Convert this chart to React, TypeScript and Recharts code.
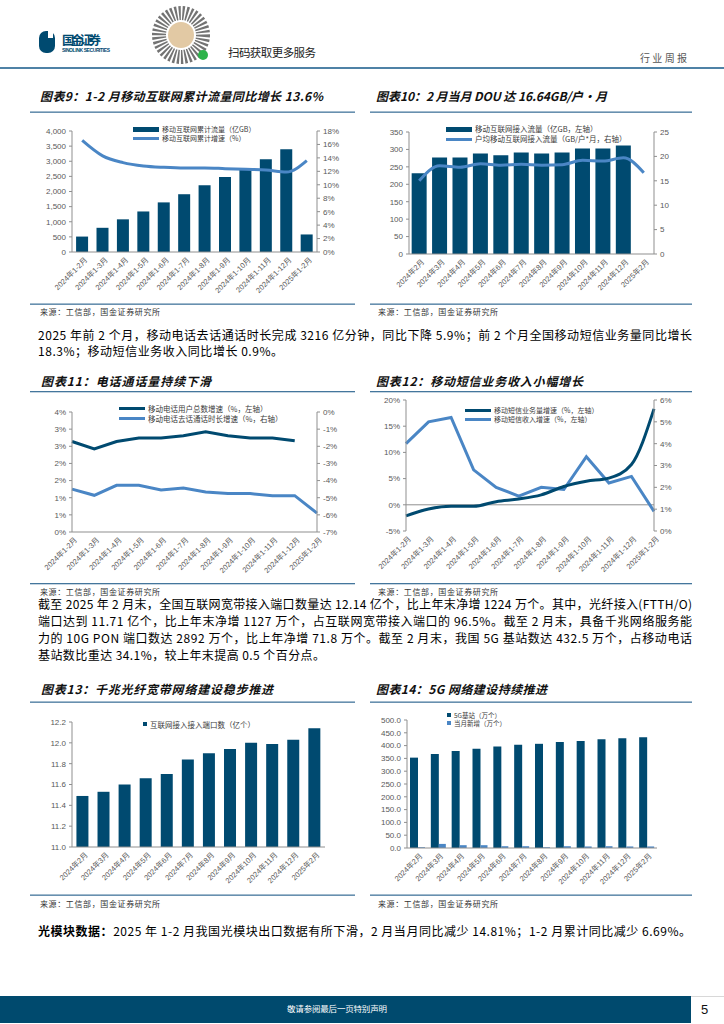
import React from "react";
import { ComposedChart, BarChart, LineChart, Bar, Line, XAxis, YAxis, Legend, ReferenceLine } from "recharts";

const NAVY = "#004a70";
const SKY = "#4a86c5";
const AXIS = "#8f8f8f";
const TICK = "#595959";
const RULE = "#44769c";
const LATIN = '"Liberation Sans", Arial, "Noto Sans CJK SC", sans-serif';
const CJK = '"Noto Sans CJK SC", "Liberation Sans", sans-serif';

// categories
const cumMonths = [
  "2024年1-2月", "2024年1-3月", "2024年1-4月", "2024年1-5月", "2024年1-6月", "2024年1-7月",
  "2024年1-8月", "2024年1-9月", "2024年1-10月", "2024年1-11月", "2024年1-12月", "2025年1-2月",
];
const months = [
  "2024年2月", "2024年3月", "2024年4月", "2024年5月", "2024年6月", "2024年7月",
  "2024年8月", "2024年9月", "2024年10月", "2024年11月", "2024年12月", "2025年2月",
];

// 图表9
const cumTraffic = [510, 800, 1080, 1340, 1640, 1910, 2210, 2480, 2760, 3070, 3400, 580];
const cumTrafficGrowth = [16.6, 14.3, 13.3, 12.8, 12.6, 12.5, 12.5, 12.4, 12.3, 12.2, 11.9, 13.6];
// 图表10
const monthTraffic = [232, 277, 277, 288, 283, 291, 288, 291, 303, 303, 311, null];
const dou = [15.0, 18.1, 17.8, 18.5, 18.2, 18.4, 18.2, 18.3, 19.2, 19.05, 19.7, 16.64];
// 图表11
const userGrowth = [2.64, 2.42, 2.64, 2.74, 2.74, 2.81, 2.92, 2.81, 2.74, 2.74, 2.66, null];
const callGrowth = [-4.5, -4.86, -4.28, -4.28, -4.55, -4.43, -4.66, -4.76, -4.76, -4.88, -4.88, -5.9];
// 图表12
const smsVolume = [-2.1, -0.8, -0.3, -0.3, 0.6, 1.1, 1.9, 3.5, 4.5, 5.1, 7.7, 18.3];
const smsRevenue = [4.0, 5.0, 5.2, 2.8, 2.0, 1.6, 2.0, 1.9, 3.4, 2.2, 2.5, 0.9];
// 图表13
const ports = [11.49, 11.53, 11.6, 11.66, 11.7, 11.84, 11.9, 11.94, 12.0, 11.99, 12.03, 12.14];
// 图表14
const bs5g = [353, 367, 379, 388, 396, 403, 407, 414, 418, 425, 429, 432.5];
const bsNew = [3, 16, 11, 11, 7, 7, 3, 7, 6, 7, 6, 6];

// ticks
const ticks9L = [0, 500, 1000, 1500, 2000, 2500, 3000, 3500, 4000];
const ticks9R = [0, 2, 4, 6, 8, 10, 12, 14, 16, 18];
const ticks10L = [0, 50, 100, 150, 200, 250, 300, 350];
const ticks10R = [0, 5, 10, 15, 20, 25];
const ticks11L = [0, 0.5, 1, 1.5, 2, 2.5, 3, 3.5];
const ticks11R = [-7, -6, -5, -4, -3, -2, -1, 0];
const ticks12L = [-5, 0, 5, 10, 15, 20];
const ticks12R = [0, 1, 2, 3, 4, 5, 6];
const ticks13 = [11, 11.2, 11.4, 11.6, 11.8, 12, 12.2];
const ticks14 = [0, 50, 100, 150, 200, 250, 300, 350, 400, 450, 500];

const data9 = cumMonths.map((m, i) => ({ m, traffic: cumTraffic[i], growth: cumTrafficGrowth[i] }));
const data10 = months.map((m, i) => ({ m, traffic: monthTraffic[i], dou: dou[i] }));
const data11 = cumMonths.map((m, i) => ({ m, users: userGrowth[i], calls: callGrowth[i] }));
const data12 = cumMonths.map((m, i) => ({ m, vol: smsVolume[i], rev: smsRevenue[i] }));
const data13 = months.map((m, i) => ({ m, ports: ports[i] }));
const data14 = months.map((m, i) => ({ m, total: bs5g[i], added: bsNew[i] }));

const tickStyle = { fontSize: 8, fill: TICK, fontFamily: LATIN };
const pct = (v: number) => `${Math.round(v)}%`;

const SlantTick = ({ x, y, payload }: any) => (
  <g transform={`translate(${x},${y})`}>
    <text dx={-2} dy={10} textAnchor="end" transform="rotate(-45)" fontSize={7.5} fill={TICK} fontFamily={LATIN}>
      {payload.value}
    </text>
  </g>
);

type LegendItem = { label: string; color: string; shape: "bar" | "line" | "square" };
const makeLegend = (items: LegendItem[], lh: number, fs = 7.5) => () => (
  <div style={{ fontFamily: CJK, fontSize: fs, lineHeight: `${lh}px`, color: "#3a3a3a", whiteSpace: "nowrap" }}>
    {items.map((it) => (
      <div key={it.label} style={{ display: "flex", alignItems: "center", height: lh }}>
        <span
          style={{
            display: "inline-block",
            flex: "none",
            width: it.shape === "square" ? 4 : 26,
            height: it.shape === "line" ? 3 : it.shape === "square" ? 4 : 5,
            background: it.color,
            marginRight: 3,
          }}
        />
        <span>{it.label}</span>
      </div>
    ))}
  </div>
);

const legendPos = (left: number, top: number) => ({ left, top, width: "auto", height: "auto" });

const Panel = ({ left, top, children }: any) => (
  <div style={{ position: "absolute", left, top }}>{children}</div>
);

const xAxisProps = {
  dataKey: "m",
  interval: 0 as const,
  tick: <SlantTick />,
  tickLine: false,
  tickSize: 0,
  tickMargin: 0,
};
const yProps = {
  interval: 0 as const,
  tick: tickStyle,
  axisLine: { stroke: AXIS },
  tickLine: { stroke: AXIS },
  tickSize: 3,
  tickMargin: 3,
};

const Chart9 = () => (
  <ComposedChart width={330} height={190} data={data9} margin={{ top: 16, right: 0, bottom: 0, left: 0 }} barCategoryGap="20%">
    <XAxis {...xAxisProps} height={53} axisLine={{ stroke: AXIS }} />
    <YAxis yAxisId="l" width={42} domain={[0, 4000]} ticks={ticks9L} tickFormatter={(v) => v.toLocaleString("en-US")} {...yProps} />
    <YAxis yAxisId="r" orientation="right" width={43} domain={[0, 18]} ticks={ticks9R} tickFormatter={pct} {...yProps} />
    <Legend
      layout="vertical"
      verticalAlign="middle"
      align="center"
      wrapperStyle={legendPos(103, 9.5)}
      content={makeLegend(
        [
          { label: "移动互联网累计流量（亿GB）", color: NAVY, shape: "bar" },
          { label: "移动互联网累计增速（%）", color: SKY, shape: "line" },
        ],
        9,
        7
      )}
    />
    <Bar yAxisId="l" dataKey="traffic" fill={NAVY} isAnimationActive={false} />
    <Line yAxisId="r" type="monotone" dataKey="growth" stroke={SKY} strokeWidth={3} dot={false} isAnimationActive={false} />
  </ComposedChart>
);

const Chart10 = () => (
  <ComposedChart width={330} height={190} data={data10} margin={{ top: 17, right: 0, bottom: 0, left: 0 }} barCategoryGap="13%">
    <XAxis {...xAxisProps} height={51} axisLine={{ stroke: AXIS }} />
    <YAxis yAxisId="l" width={39} domain={[0, 350]} ticks={ticks10L} {...yProps} />
    <YAxis yAxisId="r" orientation="right" width={46} domain={[0, 25]} ticks={ticks10R} {...yProps} />
    <Legend
      layout="vertical"
      verticalAlign="middle"
      align="center"
      wrapperStyle={legendPos(76, 9)}
      content={makeLegend(
        [
          { label: "移动互联网接入流量（亿GB，左轴）", color: NAVY, shape: "bar" },
          { label: "户均移动互联网接入流量（GB/户*月，右轴）", color: SKY, shape: "line" },
        ],
        10,
        7.5
      )}
    />
    <Bar yAxisId="l" dataKey="traffic" fill={NAVY} isAnimationActive={false} />
    <Line yAxisId="r" type="monotone" dataKey="dou" stroke={SKY} strokeWidth={3} dot={false} isAnimationActive={false} />
  </ComposedChart>
);

const Chart11 = () => (
  <LineChart width={330} height={187} data={data11} margin={{ top: 17, right: 0, bottom: 0, left: 0 }}>
    <XAxis {...xAxisProps} height={50} axisLine={{ stroke: AXIS }} />
    <YAxis yAxisId="l" width={42} domain={[0, 3.5]} ticks={ticks11L} tickFormatter={pct} {...yProps} />
    <YAxis yAxisId="r" orientation="right" width={43} domain={[-7, 0]} ticks={ticks11R} tickFormatter={pct} {...yProps} />
    <Legend
      layout="vertical"
      verticalAlign="middle"
      align="center"
      wrapperStyle={legendPos(89, 9)}
      content={makeLegend(
        [
          { label: "移动电话用户总数增速（%，左轴）", color: NAVY, shape: "line" },
          { label: "移动电话去话通话时长增速（%，右轴）", color: SKY, shape: "line" },
        ],
        9.5,
        7.5
      )}
    />
    <Line yAxisId="l" type="linear" dataKey="users" stroke={NAVY} strokeWidth={3} dot={false} isAnimationActive={false} />
    <Line yAxisId="r" type="linear" dataKey="calls" stroke={SKY} strokeWidth={3} dot={false} isAnimationActive={false} />
  </LineChart>
);

const Chart12 = () => (
  <LineChart width={330} height={187} data={data12} margin={{ top: 5, right: 0, bottom: 0, left: 0 }}>
    <XAxis {...xAxisProps} height={51} axisLine={false} />
    <YAxis yAxisId="l" width={36} domain={[-5, 20]} ticks={ticks12L} tickFormatter={pct} {...yProps} />
    <YAxis yAxisId="r" orientation="right" width={46} domain={[0, 6]} ticks={ticks12R} tickFormatter={pct} {...yProps} />
    <ReferenceLine yAxisId="l" y={0} stroke={AXIS} />
    <Legend
      layout="vertical"
      verticalAlign="middle"
      align="center"
      wrapperStyle={legendPos(95, 11)}
      content={makeLegend(
        [
          { label: "移动短信业务量增速（%，左轴）", color: NAVY, shape: "line" },
          { label: "移动短信收入增速（%，左轴）", color: SKY, shape: "line" },
        ],
        9,
        7
      )}
    />
    <Line yAxisId="r" type="linear" dataKey="rev" stroke={SKY} strokeWidth={3} dot={false} isAnimationActive={false} />
    <Line yAxisId="l" type="monotone" dataKey="vol" stroke={NAVY} strokeWidth={3} dot={false} isAnimationActive={false} />
  </LineChart>
);

const Chart13 = () => (
  <BarChart width={330} height={190} data={data13} margin={{ top: 17, right: 35, bottom: 0, left: 0 }} barCategoryGap="21%">
    <XAxis {...xAxisProps} height={48} axisLine={{ stroke: AXIS }} />
    <YAxis width={42} domain={[11, 12.2]} ticks={ticks13} tickFormatter={(v) => v.toFixed(1)} {...yProps} />
    <Legend
      layout="vertical"
      verticalAlign="middle"
      align="center"
      wrapperStyle={legendPos(113, 14.5)}
      content={makeLegend([{ label: "互联网接入接入端口数（亿个）", color: NAVY, shape: "square" }], 9, 7.5)}
    />
    <Bar dataKey="ports" fill={NAVY} isAnimationActive={false} />
  </BarChart>
);

const Chart14 = () => (
  <BarChart width={330} height={190} data={data14} margin={{ top: 15, right: 43, bottom: 0, left: 0 }} barGap={0}>
    <XAxis {...xAxisProps} height={47} axisLine={{ stroke: AXIS }} />
    <YAxis width={37} domain={[0, 500]} ticks={ticks14} tickFormatter={(v) => v.toFixed(1)} {...yProps} />
    <Legend
      layout="vertical"
      verticalAlign="middle"
      align="center"
      wrapperStyle={legendPos(77, 6)}
      content={makeLegend(
        [
          { label: "5G基站（万个）", color: NAVY, shape: "square" },
          { label: "当月新增（万个）", color: SKY, shape: "square" },
        ],
        8,
        6.5
      )}
    />
    <Bar dataKey="total" fill={NAVY} barSize={8} isAnimationActive={false} />
    <Bar dataKey="added" fill={SKY} barSize={7} isAnimationActive={false} />
  </BarChart>
);

const T = ({ x, y, w, size = 12, children, ...rest }: any) => (
  <text x={x} y={y} fontSize={size} fontFamily={CJK} textLength={w} lengthAdjust="spacing" {...rest}>
    {children}
  </text>
);

const Title = ({ x, y, w, children }: any) => (
  <T x={x} y={y} w={w} size={12} fontWeight="bold" fontStyle="italic" fill="#111">
    {children}
  </T>
);

const Source = ({ x, y }: any) => (
  <T x={x} y={y} w={120} size={8} fill="#333">
    来源：工信部，国金证券研究所
  </T>
);

export default function App() {
  return (
    <div style={{ position: "absolute", left: 0, top: 0, width: 724, height: 1024, background: "#fff", overflow: "hidden" }}>
      <svg width={724} height={1024} style={{ position: "absolute", left: 0, top: 0 }}>
        {/* header */}
        <rect x={39} y={31} width={16} height={22} rx={7} fill={NAVY} />
        <rect x={48} y={31} width={5} height={7} fill="#fff" />
        <T x={62} y={45} w={39} size={12.5} fontWeight="bold" fill={NAVY}>国金证券</T>
        <text x={62} y={52} fontSize={5} fontWeight="bold" fill={NAVY} fontFamily={LATIN} textLength={48} lengthAdjust="spacing">SINOLINK SECURITIES</text>
        <circle cx={181} cy={35} r={22} fill="none" stroke="#444" strokeWidth={14} strokeDasharray="2 1.6" opacity={0.75} />
        <circle cx={181} cy={35} r={13} fill="#e2c9a4" />
        <circle cx={203} cy={55} r={5} fill="#2db34a" />
        <T x={228} y={57} w={88} size={11.5} fill="#222">扫码获取更多服务</T>
        <T x={640} y={62} w={47} size={10} fill="#555">行业周报</T>
        <rect x={0} y={67} width={724} height={2} fill="#4f82a6" />

        {/* chart titles and rules */}
        <Title x={40} y={101} w={283}>图表9：1-2 月移动互联网累计流量同比增长 13.6%</Title>
        <Title x={376} y={101} w={231}>图表10：2 月当月 DOU 达 16.64GB/户•月</Title>
        <rect x={30} y={111.5} width={325} height={1.3} fill={RULE} />
        <rect x={370} y={111.5} width={322} height={1.3} fill={RULE} />
        <rect x={30} y={303.5} width={325} height={1.3} fill={RULE} />
        <rect x={370} y={303.5} width={322} height={1.3} fill={RULE} />
        <Source x={40} y={315} />
        <Source x={378} y={315} />

        <T x={38} y={340} w={654} fill="#000">2025 年前 2 个月，移动电话去话通话时长完成 3216 亿分钟，同比下降 5.9%；前 2 个月全国移动短信业务量同比增长</T>
        <T x={38} y={356} w={245} fill="#000">18.3%；移动短信业务收入同比增长 0.9%。</T>

        <Title x={41} y={386} w={170}>图表11：电话通话量持续下滑</Title>
        <Title x={376} y={386} w={207}>图表12：移动短信业务收入小幅增长</Title>
        <rect x={30} y={391} width={325} height={1.3} fill={RULE} />
        <rect x={370} y={391} width={322} height={1.3} fill={RULE} />
        <rect x={30} y={583} width={325} height={1.3} fill={RULE} />
        <rect x={370} y={583} width={322} height={1.3} fill={RULE} />
        <Source x={40} y={595} />
        <Source x={378} y={595} />

        <T x={38} y={609} w={654} fill="#000">截至 2025 年 2 月末，全国互联网宽带接入端口数量达 12.14 亿个，比上年末净增 1224 万个。其中，光纤接入(FTTH/O)</T>
        <T x={38} y={626} w={654} fill="#000">端口达到 11.71 亿个，比上年末净增 1127 万个，占互联网宽带接入端口的 96.5%。截至 2 月末，具备千兆网络服务能</T>
        <T x={38} y={643} w={654} fill="#000">力的 10G  PON 端口数达 2892 万个，比上年净增 71.8 万个。截至 2 月末，我国 5G 基站数达 432.5 万个，占移动电话</T>
        <T x={38} y={660} w={287} fill="#000">基站数比重达 34.1%，较上年末提高 0.5 个百分点。</T>

        <Title x={41} y={694} w={232}>图表13：千兆光纤宽带网络建设稳步推进</Title>
        <Title x={376} y={694} w={171}>图表14：5G 网络建设持续推进</Title>
        <rect x={30} y={701.5} width={325} height={1.3} fill={RULE} />
        <rect x={370} y={701.5} width={322} height={1.3} fill={RULE} />
        <rect x={30} y={894.5} width={325} height={1.3} fill={RULE} />
        <rect x={370} y={894.5} width={322} height={1.3} fill={RULE} />
        <Source x={40} y={907} />
        <Source x={378} y={907} />

        <T x={38} y={936} w={653} fill="#000">
          <tspan fontWeight="bold">光模块数据：</tspan>2025 年 1-2 月我国光模块出口数据有所下滑，2 月当月同比减少 14.81%；1-2 月累计同比减少 6.69%。
        </T>

        {/* footer */}
        <rect x={691} y={996} width={33} height={0.8} fill="#cfcfcf" />
        <rect x={0} y={996} width={691} height={27} fill="#004a6e" />
        <T x={287} y={1012} w={100} size={8.5} fill="#fff">敬请参阅最后一页特别声明</T>
        <text x={701} y={1014} fontSize={13} fontFamily={LATIN} fill="#111">5</text>
      </svg>

      <Panel left={30} top={115}><Chart9 /></Panel>
      <Panel left={370} top={115}><Chart10 /></Panel>
      <Panel left={30} top={395}><Chart11 /></Panel>
      <Panel left={370} top={395}><Chart12 /></Panel>
      <Panel left={30} top={705}><Chart13 /></Panel>
      <Panel left={370} top={705}><Chart14 /></Panel>
    </div>
  );
}
